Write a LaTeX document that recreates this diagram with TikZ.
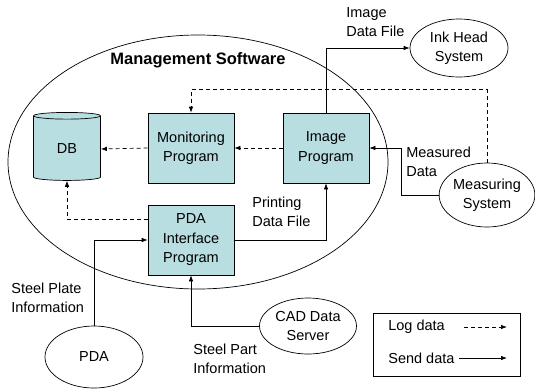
\documentclass[tikz,border=0pt]{standalone}
\usepackage{fontspec}
\setmainfont{Liberation Sans}
\usetikzlibrary{arrows.meta,shapes.geometric}
\definecolor{progfill}{RGB}{184,222,226}

\begin{document}
\begin{tikzpicture}[x=1pt,y=-1pt,line width=0.7pt,
  every node/.style={font=\fontsize{14.5}{19.5}\selectfont},
  prog/.style={rectangle,draw,fill=progfill,minimum width=86pt,minimum height=70pt,align=center,inner sep=1pt},
  extsys/.style={ellipse,draw,align=center,inner sep=0pt},
  lbl/.style={align=left,anchor=west,inner sep=0pt},
  send/.style={-{Latex[length=6pt,width=4.5pt]}},
  log/.style={dash pattern=on 4pt off 3pt,-{Latex[length=6pt,width=4.5pt]}}]
\useasboundingbox (0,0) rectangle (535,389);

% management software
\path (198,162) node[ellipse,draw,minimum width=380pt,minimum height=254pt] (mgmt) {};
\path (198,60) node[font=\fontsize{16.5}{19}\selectfont\bfseries] (mgmttitle) {Management Software};

\path (67,149) node[cylinder,shape border rotate=90,aspect=0.25,draw,fill=progfill,minimum width=67pt,minimum height=68pt] (db) {DB};
\path (191,148) node[prog] (mon) {Monitoring\\Program};
\path (326,148) node[prog] (img) {Image\\Program};
\path (191,240) node[prog] (pdai) {PDA\\Interface\\Program};

% outside systems
\path (459,48) node[extsys,minimum width=98pt,minimum height=58pt] (ink) {Ink Head\\System};
\path (487,195) node[extsys,minimum width=92pt,minimum height=64pt] (meas) {Measuring\\System};
\path (94,357) node[extsys,minimum width=98pt,minimum height=62pt] (pda) {PDA};
\path (308,326) node[extsys,minimum width=97pt,minimum height=56pt] (cad) {CAD Data\\Server};

% log data
\draw[log] (img.west) -- (mon.east);
\draw[log] (mon.west) -- (db.east);
\draw[log] ([yshift=21pt]pdai.west) -| (db.south);
\draw[log] (meas.north) -- ++(0,-73) -| (mon.north);

% send data
\draw[send] (img.north) |- (ink.west);
\path (346,22) node[lbl] (imgfile) {Image\\Data File};
\draw[send] (meas.west) -- ++(-37,0) |- (img.east);
\path (406,162) node[lbl] (measdata) {Measured\\Data};
\draw[send] (pdai.east) -| (img.south);
\path (252,212) node[lbl] (printfile) {Printing\\Data File};
\draw[send] (pda.north) |- (pdai.west);
\path (11,298) node[lbl] (plateinfo) {Steel Plate\\Information};
\draw[send] (cad.west) -| (pdai.south);
\path (193,359) node[lbl] (partinfo) {Steel Part\\Information};

% legend
\path (447,345) node[rectangle,draw,minimum width=147pt,minimum height=63pt] (legend) {};
\path (388,327) node[lbl] (logtxt) {Log data};
\path (388,358) node[lbl] (sendtxt) {Send data};
\coordinate (loga) at (464,327);
\coordinate (logb) at (507,327);
\coordinate (senda) at (459,358);
\coordinate (sendb) at (507,358);
\draw[log] (loga) -- (logb);
\draw[send] (senda) -- (sendb);
\end{tikzpicture}
\end{document}
